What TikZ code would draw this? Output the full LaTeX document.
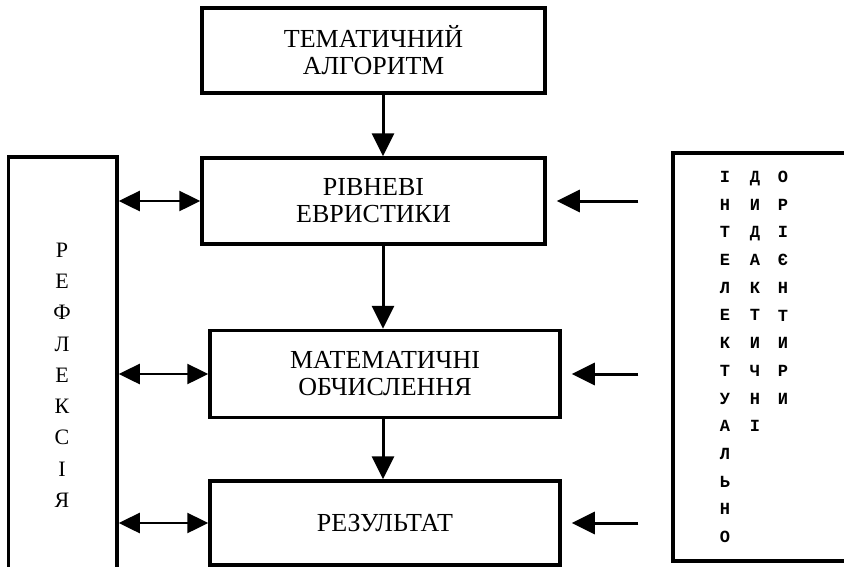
\documentclass[tikz,border=0pt]{standalone}
\usepackage{fontspec}
\setmainfont{Liberation Serif}
\setmonofont{Liberation Mono}
\usetikzlibrary{arrows.meta}

\tikzset{
    block/.style={draw, line width=3.5pt, align=center, inner sep=0pt,
        font=\fontsize{26}{27}\selectfont},
    frame/.style={draw, line width=3.5pt, inner sep=0pt},
    flow/.style={line width=3pt, -{Triangle[length=23pt,width=22pt]}},
    twoway/.style={line width=2.5pt,
        {Triangle[length=21pt,width=20pt]}-{Triangle[length=21pt,width=20pt]}},
    letters/.style={align=center, inner sep=0pt, anchor=north},
    monoletters/.style={letters, font=\ttfamily\bfseries\fontsize{17}{27.7}\selectfont},
}

\begin{document}
\begin{tikzpicture}[x=1pt, y=-1pt]
    \useasboundingbox (0,0) rectangle (844,566);

    % Main column
    \node[block, minimum width=343, minimum height=85] (tema) at (373.5, 50.5) {ТЕМАТИЧНИЙ\\АЛГОРИТМ};
    \node[block, minimum width=343, minimum height=86] (rivni) at (373.5, 201) {РІВНЕВІ\\ЕВРИСТИКИ};
    \node[block, minimum width=350, minimum height=87] (matem) at (385, 374) {МАТЕМАТИЧНІ\\ОБЧИСЛЕННЯ};
    \node[block, minimum width=350, minimum height=84] (rezult) at (385, 523) {РЕЗУЛЬТАТ};

    % Side frames
    \node[frame, minimum width=108.5, minimum height=418] (refl) at (62.75, 366) {};
    \node[frame, minimum width=197, minimum height=408] (intel) at (771.5, 357) {};

    % Side labels
    \node[letters, font=\fontsize{22}{31.25}\selectfont] (refltext) at (62, 242.7) {Р\\Е\\Ф\\Л\\Е\\К\\С\\І\\Я};
    \node[monoletters] (col1) at (725, 171) {І\\Н\\Т\\Е\\Л\\Е\\К\\Т\\У\\А\\Л\\Ь\\Н\\О};
    \node[monoletters] (col2) at (755, 171) {Д\\И\\Д\\А\\К\\Т\\И\\Ч\\Н\\І};
    \node[monoletters] (col3) at (783, 171) {О\\Р\\І\\Є\\Н\\Т\\И\\Р\\И};

    % Down arrows
    \coordinate (axis) at (383, 0);
    \draw[flow] (tema.south -| axis) -- (rivni.north -| axis);
    \draw[flow] (rivni.south -| axis) -- (matem.north -| axis);
    \draw[flow] (matem.south -| axis) -- (rezult.north -| axis);

    % Reflection links
    \draw[twoway] (refl.east |- rivni) -- (rivni.west);
    \draw[twoway] (refl.east |- matem) -- (matem.west);
    \draw[twoway] (refl.east |- rezult) -- (rezult.west);

    % Input arrows
    \draw[flow, shorten <=33pt, shorten >=10pt] (intel.west |- rivni) -- (rivni.east);
    \draw[flow, shorten <=33pt, shorten >=10pt] (intel.west |- matem) -- (matem.east);
    \draw[flow, shorten <=33pt, shorten >=10pt] (intel.west |- rezult) -- (rezult.east);
\end{tikzpicture}
\end{document}
